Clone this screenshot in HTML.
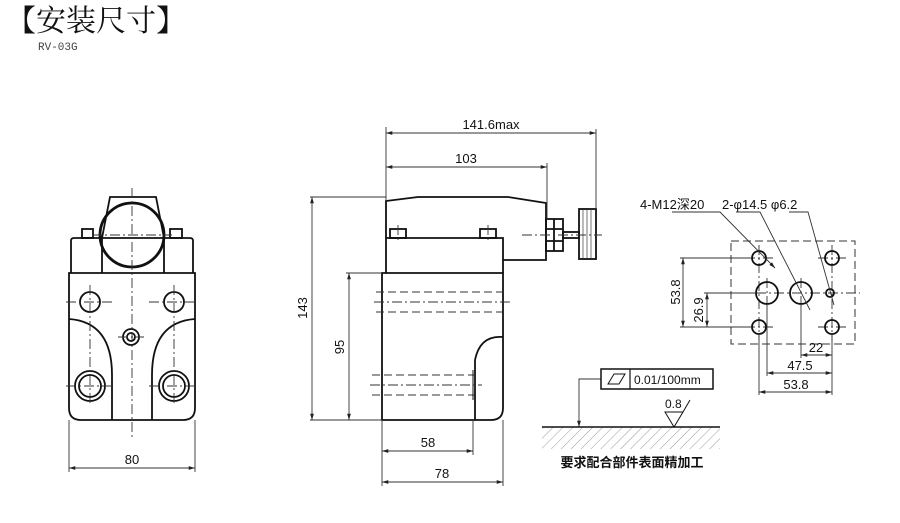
<!DOCTYPE html>
<html><head><meta charset="utf-8"><style>
body{margin:0;background:#fff;width:900px;height:523px;overflow:hidden}
svg{display:block}
text{font-family:"Liberation Sans","Noto Sans CJK SC",sans-serif;fill:#111}
</style></head><body>
<svg width="900" height="523" viewBox="0 0 900 523" xmlns="http://www.w3.org/2000/svg">
<defs>
<marker id="a" viewBox="0 0 10 10" refX="10" refY="5" markerWidth="7" markerHeight="7" orient="auto-start-reverse"><path d="M0,2 L10,5 L0,8 z" fill="#222"/></marker>
<pattern id="h" width="7" height="7" patternUnits="userSpaceOnUse" patternTransform="rotate(45)"><line x1="0" y1="0" x2="0" y2="7" stroke="#999" stroke-width="1"/></pattern>
</defs>
<text x="6" y="31" style="font-family:'Noto Serif CJK SC',serif;font-size:30px">【安装尺寸】</text>
<text x="38" y="50" style="font-family:'Liberation Mono',monospace;font-size:11px;fill:#444">RV-03G</text>

<g fill="none" stroke="#111" stroke-width="1.8">
<path d="M69,273 H195 V408 Q195,420 183,420 H81 Q69,420 69,408 Z"/>
<path d="M71,273 V241 Q71,238 74,238 H190 Q193,238 193,241 V273"/>
<path d="M102,273 V238 L110,197 H156 L164,238 V273"/>
<rect x="82" y="229" width="11" height="9"/><rect x="170" y="229" width="12" height="9"/>
<circle cx="132" cy="235" r="32" stroke-width="2.8"/>
<circle cx="90" cy="302" r="10"/><circle cx="174" cy="302" r="10"/>
<circle cx="90" cy="386" r="15"/><circle cx="90" cy="386" r="11"/>
<circle cx="174" cy="386" r="15"/><circle cx="174" cy="386" r="11"/>
<circle cx="131" cy="337" r="8"/><circle cx="131" cy="337" r="4"/>
<path d="M69,319 Q112,322 112,375 V420"/><path d="M195,319 Q152,322 152,375 V420"/>
<path d="M382,273 H503 V408 Q503,420 491,420 H382 Z"/>
<path d="M503,337 Q480,335 475,360 V420"/>
<path d="M386,273 V238 H503 V273"/>
<path d="M386,238 V201 L418,197 H508 L546,203 V260 H503"/>
<rect x="390" y="229" width="16" height="9"/><rect x="480" y="229" width="16" height="9"/>
<rect x="546" y="219" width="17" height="32"/>
<line x1="546" y1="229" x2="563" y2="229"/><line x1="546" y1="241" x2="563" y2="241"/><line x1="554" y1="219" x2="554" y2="251"/>
<rect x="563" y="232" width="16" height="6"/>
<rect x="579" y="209" width="17" height="50"/>
</g>
<g stroke="#555" stroke-width="0.8">
<line x1="583" y1="210" x2="583" y2="258"/><line x1="587" y1="210" x2="587" y2="258"/><line x1="591" y1="210" x2="591" y2="258"/>
</g>
<g fill="none" stroke="#333" stroke-width="0.9" stroke-dasharray="10,3,2,3">
<line x1="132" y1="188" x2="132" y2="440"/><line x1="92" y1="235" x2="172" y2="235"/>
<line x1="66" y1="302" x2="115" y2="302"/><line x1="149" y1="302" x2="198" y2="302"/>
<line x1="90" y1="285" x2="90" y2="405"/><line x1="174" y1="285" x2="174" y2="405"/>
<line x1="66" y1="386" x2="115" y2="386"/><line x1="149" y1="386" x2="198" y2="386"/>
<line x1="118" y1="337" x2="144" y2="337"/>
<line x1="522" y1="235" x2="602" y2="235"/>
<line x1="374" y1="302" x2="510" y2="302"/><line x1="370" y1="385" x2="482" y2="385"/>
<line x1="398" y1="225" x2="398" y2="242"/><line x1="488" y1="225" x2="488" y2="242"/>
<line x1="720" y1="293" x2="860" y2="293"/>
<line x1="759" y1="245" x2="759" y2="340"/><line x1="832" y1="245" x2="832" y2="340"/>
<line x1="745" y1="258" x2="773" y2="258"/><line x1="818" y1="258" x2="846" y2="258"/>
<line x1="745" y1="327" x2="773" y2="327"/><line x1="818" y1="327" x2="846" y2="327"/>
<line x1="767" y1="278" x2="767" y2="308"/><line x1="801" y1="278" x2="801" y2="308"/>
</g>
<g fill="none" stroke="#333" stroke-width="1" stroke-dasharray="8,4">
<line x1="376" y1="292" x2="503" y2="292"/><line x1="376" y1="312" x2="503" y2="312"/>
<line x1="372" y1="375" x2="475" y2="375"/><line x1="372" y1="395" x2="475" y2="395"/>
<rect x="731" y="241" width="124" height="103"/>
</g>
<line x1="473" y1="370" x2="473" y2="400" stroke="#111"/>
<g fill="none" stroke="#111" stroke-width="1.8">
<circle cx="759" cy="258" r="7"/><circle cx="759" cy="327" r="7"/><circle cx="832" cy="258" r="7"/><circle cx="832" cy="327" r="7"/>
<circle cx="767" cy="293" r="11"/><circle cx="801" cy="293" r="11"/><circle cx="830" cy="293" r="4"/>
</g>
<g fill="none" stroke="#333" stroke-width="0.9">
<line x1="69" y1="420" x2="69" y2="472"/><line x1="195" y1="420" x2="195" y2="472"/>
<line x1="69" y1="468" x2="195" y2="468" marker-start="url(#a)" marker-end="url(#a)"/>
<line x1="386" y1="127" x2="386" y2="200"/><line x1="596" y1="129" x2="596" y2="209"/><line x1="547" y1="163" x2="547" y2="219"/>
<line x1="386" y1="133" x2="596" y2="133" marker-start="url(#a)" marker-end="url(#a)"/>
<line x1="386" y1="167" x2="547" y2="167" marker-start="url(#a)" marker-end="url(#a)"/>
<line x1="310" y1="197" x2="386" y2="197"/><line x1="310" y1="420" x2="382" y2="420"/><line x1="346" y1="273" x2="382" y2="273"/>
<line x1="312" y1="197" x2="312" y2="420" marker-start="url(#a)" marker-end="url(#a)"/>
<line x1="349" y1="273" x2="349" y2="420" marker-start="url(#a)" marker-end="url(#a)"/>
<line x1="382" y1="420" x2="382" y2="486"/><line x1="473" y1="420" x2="473" y2="455"/><line x1="503" y1="420" x2="503" y2="486"/>
<line x1="382" y1="451" x2="473" y2="451" marker-start="url(#a)" marker-end="url(#a)"/>
<line x1="382" y1="482" x2="503" y2="482" marker-start="url(#a)" marker-end="url(#a)"/>
<line x1="680" y1="258" x2="752" y2="258"/><line x1="680" y1="327" x2="752" y2="327"/><line x1="704" y1="293" x2="756" y2="293"/>
<line x1="683" y1="258" x2="683" y2="327" marker-start="url(#a)" marker-end="url(#a)"/>
<line x1="707" y1="293" x2="707" y2="327" marker-start="url(#a)" marker-end="url(#a)"/>
<line x1="759" y1="334" x2="759" y2="395"/><line x1="767" y1="304" x2="767" y2="376"/><line x1="801" y1="304" x2="801" y2="358"/><line x1="832" y1="334" x2="832" y2="395"/>
<line x1="801" y1="355" x2="832" y2="355" marker-start="url(#a)" marker-end="url(#a)"/>
<line x1="767" y1="373" x2="832" y2="373" marker-start="url(#a)" marker-end="url(#a)"/>
<line x1="759" y1="392" x2="832" y2="392" marker-start="url(#a)" marker-end="url(#a)"/>
<polyline points="672,212 720,212 775,268" marker-end="url(#a)"/>
<polyline points="736,212 760,212 810,310"/>
<polyline points="789,212 808,212 834,305"/>
<polyline points="601,379 579,379 579,427" marker-end="url(#a)"/>
</g>
<g font-size="13">
<text x="132" y="464" text-anchor="middle">80</text>
<text x="491" y="129" text-anchor="middle">141.6max</text>
<text x="466" y="163" text-anchor="middle">103</text>
<text x="428" y="447" text-anchor="middle">58</text>
<text x="442" y="478" text-anchor="middle">78</text>
<text transform="translate(307,308) rotate(-90)" text-anchor="middle">143</text>
<text transform="translate(344,347) rotate(-90)" text-anchor="middle">95</text>
<text transform="translate(680,292) rotate(-90)" text-anchor="middle">53.8</text>
<text transform="translate(703,310) rotate(-90)" text-anchor="middle">26.9</text>
<text x="816" y="352" text-anchor="middle">22</text>
<text x="800" y="370" text-anchor="middle">47.5</text>
<text x="796" y="389" text-anchor="middle">53.8</text>
<text x="640" y="209">4-M12深20</text>
<text x="722" y="209">2-φ14.5 φ6.2</text>
<text x="634" y="384" font-size="12">0.01/100mm</text>
<text x="665" y="408" font-size="12">0.8</text>
<text x="632" y="467" text-anchor="middle" font-weight="bold" font-size="13">要求配合部件表面精加工</text>
</g>
<rect x="601" y="369" width="112" height="20" fill="none" stroke="#111" stroke-width="1.5"/>
<line x1="630" y1="369" x2="630" y2="389" stroke="#111" stroke-width="1.2"/>
<path d="M608,384 L614,374 H625 L619,384 Z" fill="none" stroke="#111"/>
<path d="M665,412 H683 L674,427 Z M683,412 L690,400" fill="none" stroke="#111"/>
<rect x="542" y="427" width="178" height="22" fill="url(#h)"/>
<line x1="542" y1="427" x2="720" y2="427" stroke="#111" stroke-width="1.5"/>
</svg>
</body></html>
